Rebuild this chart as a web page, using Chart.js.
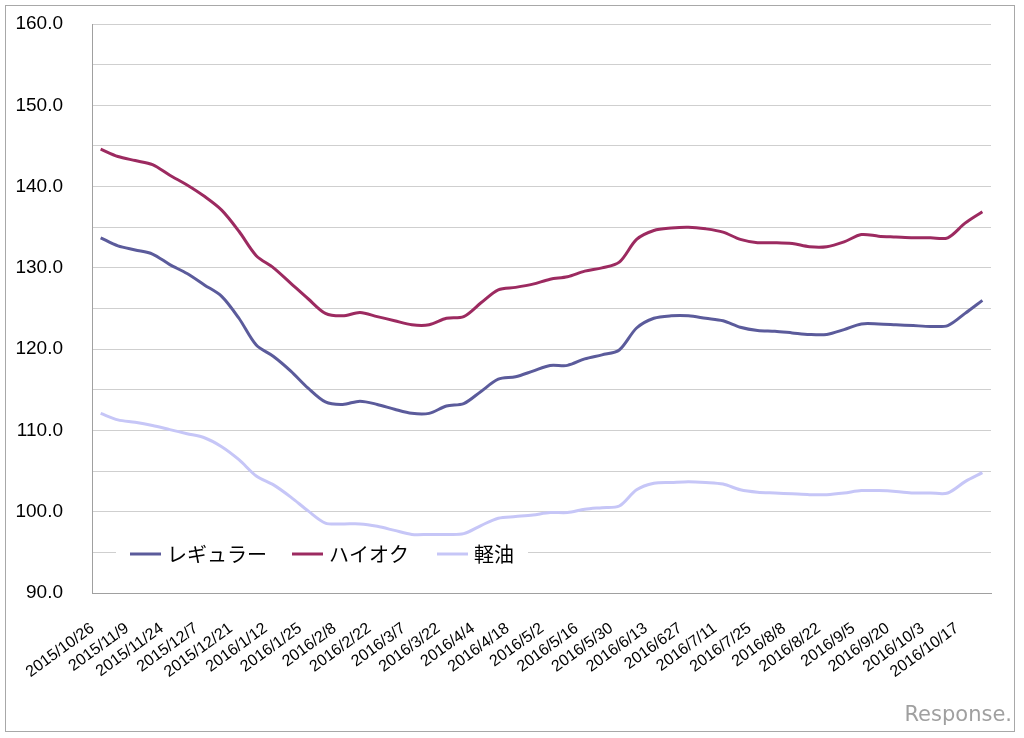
<!DOCTYPE html>
<html lang="ja">
<head>
<meta charset="UTF-8">
<title>ガソリン価格推移</title>
<script src="https://cdn.jsdelivr.net/npm/chart.js@4.4.0/dist/chart.umd.min.js"></script>
<style>
  html, body { margin: 0; padding: 0; background: #fff; }
  #chart-wrap { width: 1024px; height: 738px; }
</style>
</head>
<body>
<div id="chart-wrap"><canvas id="priceChart" width="1024" height="738"></canvas></div>
<script>
// Weekly survey dates (only every other one is shown on the axis)
const dates = [
  '2015/10/26', '2015/11/2', '2015/11/9', '2015/11/16', '2015/11/24', '2015/11/30',
  '2015/12/7', '2015/12/14', '2015/12/21', '2016/1/5', '2016/1/12', '2016/1/18',
  '2016/1/25', '2016/2/1', '2016/2/8', '2016/2/15', '2016/2/22', '2016/2/29',
  '2016/3/7', '2016/3/14', '2016/3/22', '2016/3/28', '2016/4/4', '2016/4/11',
  '2016/4/18', '2016/4/25', '2016/5/2', '2016/5/9', '2016/5/16', '2016/5/23',
  '2016/5/30', '2016/6/6', '2016/6/13', '2016/6/20', '2016/627', '2016/7/4',
  '2016/7/11', '2016/7/19', '2016/7/25', '2016/8/1', '2016/8/8', '2016/8/15',
  '2016/8/22', '2016/8/29', '2016/9/5', '2016/9/12', '2016/9/20', '2016/9/26',
  '2016/10/3', '2016/10/11', '2016/10/17', '2016/10/24'
];

// Prices (yen per litre)
const regular = [
  133.7, 132.7, 132.2, 131.7, 130.4, 129.3, 127.9, 126.5, 123.8, 120.5,
  119.1, 117.3, 115.2, 113.5, 113.2, 113.6, 113.2, 112.6, 112.1, 112.1,
  113.0, 113.3, 114.8, 116.3, 116.6, 117.3, 118.0, 118.0, 118.8, 119.3,
  119.9, 122.6, 123.8, 124.1, 124.1, 123.8, 123.5, 122.7, 122.3, 122.2,
  122.0, 121.8, 121.8, 122.4, 123.1, 123.1, 123.0, 122.9, 122.8, 122.9,
  124.4, 126.0
];
const highOctane = [
  144.6, 143.7, 143.2, 142.7, 141.4, 140.2, 138.8, 137.1, 134.5, 131.5,
  130.0, 128.1, 126.2, 124.4, 124.1, 124.5, 124.0, 123.5, 123.0, 123.0,
  123.8, 124.0, 125.7, 127.3, 127.6, 128.0, 128.6, 128.9, 129.6, 130.0,
  130.7, 133.5, 134.6, 134.9, 135.0, 134.8, 134.4, 133.5, 133.1, 133.1,
  133.0, 132.6, 132.6, 133.2, 134.1, 133.9, 133.8, 133.7, 133.7, 133.7,
  135.5, 136.9
];
const diesel = [
  112.1, 111.3, 111.0, 110.6, 110.1, 109.6, 109.1, 108.0, 106.4, 104.4,
  103.3, 101.8, 100.1, 98.6, 98.5, 98.5, 98.2, 97.7, 97.2, 97.2,
  97.2, 97.3, 98.3, 99.2, 99.4, 99.6, 99.9, 99.9, 100.3, 100.5,
  100.7, 102.7, 103.5, 103.6, 103.7, 103.6, 103.4, 102.7, 102.4, 102.3,
  102.2, 102.1, 102.1, 102.3, 102.6, 102.6, 102.5, 102.3, 102.3, 102.3,
  103.7, 104.8
];

const seriesNames = ['レギュラー', 'ハイオク', '軽油'];
const seriesColors = ['#5b5b9b', '#9c2a60', '#c6c6f7'];

// Frame around the whole picture + watermark
const framePlugin = {
  id: 'frame',
  beforeDraw(chart) {
    const ctx = chart.ctx;
    ctx.save();
    ctx.fillStyle = '#fff';
    ctx.fillRect(0, 0, chart.width, chart.height);
    ctx.strokeStyle = '#a8a8a8';
    ctx.lineWidth = 1;
    ctx.strokeRect(5.5, 5.5, 1009, 726);
    ctx.restore();
  },
  afterDraw(chart) {
    const ctx = chart.ctx;
    ctx.save();
    ctx.fillStyle = '#a0a0a0';
    ctx.font = '21px "DejaVu Sans"';
    ctx.textAlign = 'right';
    ctx.textBaseline = 'middle';
    ctx.fillText('Response.', 1012, 716);
    ctx.restore();
  }
};

// Legend sits inside the plot, near the bottom left
const insideLegend = {
  id: 'insideLegend',
  afterDatasetsDraw(chart) {
    const ctx = chart.ctx;
    const y = 554;
    const starts = [130, 292, 437];
    ctx.save();
    ctx.fillStyle = '#fff';
    ctx.fillRect(116, 538, 412, 32);
    ctx.font = '20px "Noto Sans CJK JP"';
    ctx.textBaseline = 'middle';
    chart.data.datasets.forEach((ds, i) => {
      ctx.strokeStyle = ds.borderColor;
      ctx.lineWidth = 3;
      ctx.beginPath();
      ctx.moveTo(starts[i], y);
      ctx.lineTo(starts[i] + 31, y);
      ctx.stroke();
      ctx.fillStyle = '#000';
      ctx.fillText(ds.label, starts[i] + 37, y);
    });
    ctx.restore();
  }
};

const ctx = document.getElementById('priceChart').getContext('2d');

new Chart(ctx, {
  type: 'line',
  data: {
    labels: dates,
    datasets: [regular, highOctane, diesel].map((values, i) => ({
      label: seriesNames[i],
      data: values,
      borderColor: seriesColors[i],
      backgroundColor: seriesColors[i],
      borderWidth: 3,
      pointRadius: 0,
      tension: 0.3
    }))
  },
  options: {
    responsive: false,
    animation: false,
    devicePixelRatio: 1,
    layout: { padding: { left: 0, top: 24, right: 33, bottom: 0 } },
    plugins: {
      legend: { display: false },
      tooltip: { enabled: false }
    },
    scales: {
      x: {
        offset: true,
        grid: { display: false, drawTicks: false },
        border: { color: '#a0a0a0' },
        afterFit: (scale) => { scale.height = 145; },
        ticks: {
          autoSkip: false,
          minRotation: 36,
          maxRotation: 36,
          padding: 26,
          labelOffset: -8,
          color: '#000',
          font: { family: '"Liberation Sans", Arial', size: 16 },
          callback: function (value, index) {
            return index % 2 === 0 ? this.getLabelForValue(value) : '';
          }
        }
      },
      y: {
        min: 90,
        max: 160,
        grid: { color: '#cfcfcf', drawTicks: false },
        border: { color: '#a0a0a0' },
        // tick padding would otherwise push the plot top down
        afterFit: (scale) => {
          scale.width = 92;
          scale.paddingTop = 0;
          scale.paddingBottom = 0;
        },
        ticks: {
          stepSize: 5,
          padding: 29,
          color: '#000',
          font: { family: '"Liberation Sans", Arial', size: 19 },
          callback: (value) => (value % 10 === 0 ? value.toFixed(1) : '')
        }
      }
    }
  },
  plugins: [framePlugin, insideLegend]
});
</script>
</body>
</html>
